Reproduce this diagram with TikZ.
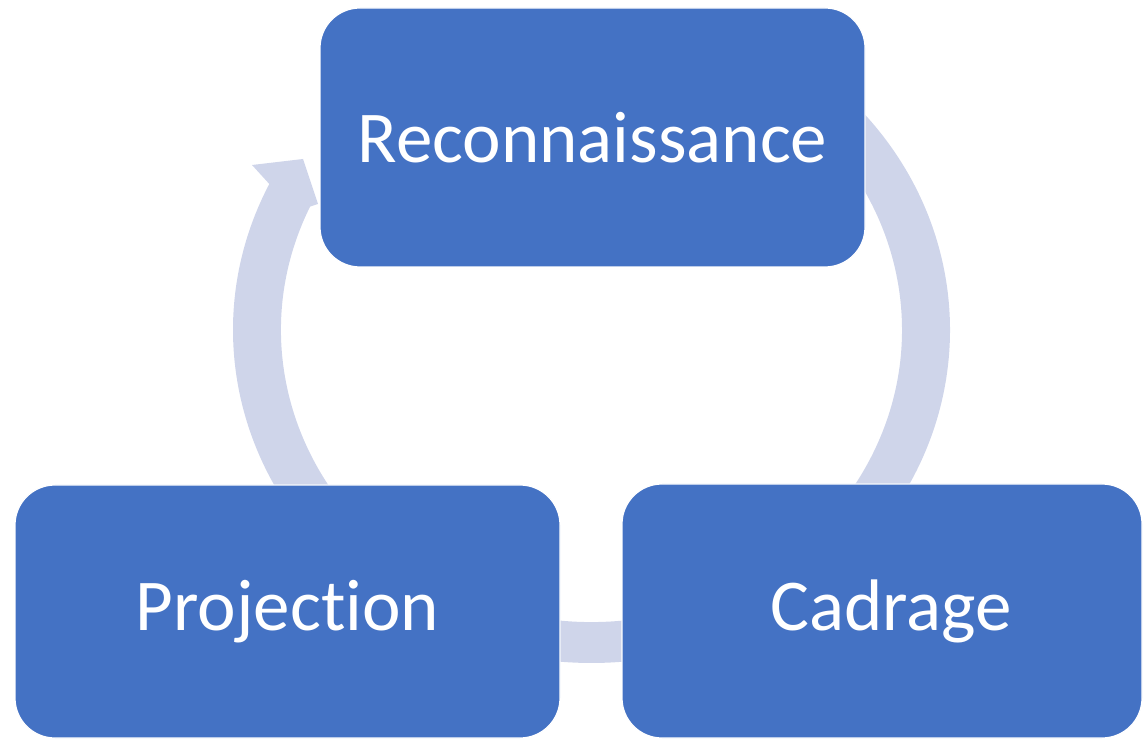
\documentclass[tikz,border=0pt]{standalone}
\usepackage{fontspec}
\setmainfont{Carlito}[Ligatures=NoCommon]
\usetikzlibrary{calc}
\definecolor{boxblue}{HTML}{4472C4}
\definecolor{ringblue}{HTML}{CFD5EA}
\tikzset{
  stagebox/.style={rectangle, rounded corners=40pt, fill=boxblue, draw=white, line width=1.2pt,
    inner sep=0pt, text=white, font=\fontsize{73}{87}\selectfont},
  ringfill/.style={fill=ringblue}
}
\begin{document}
\begin{tikzpicture}[x=1pt,y=1pt]
\useasboundingbox (0,0) rectangle (1147,739);
% ring centre and arrow head points
\coordinate (ctr) at (591.5,409);
\coordinate (tailO) at (845,644.5);
\coordinate (baseI) at (310.1,532.4);
\coordinate (barbO) at (252,574);
\coordinate (tip) at (303,580);
\coordinate (barbI) at (318,535);
% continuous circular arrow behind the boxes
\fill[ringfill] (tailO) arc[start angle=45, end angle=-206, x radius=358.5pt, y radius=333pt]
  -- (barbO) -- (tip) -- (barbI) -- (baseI)
  arc[start angle=-205, end angle=45, x radius=310.5pt, y radius=292pt] -- cycle;
% stages
\node[stagebox, minimum width=545pt, minimum height=259pt] (rec) at (592.5,601.5) {Reconnaissance};
\node[stagebox, minimum width=545pt, minimum height=253pt] (proj) at (287.5,127.5) {Projection};
\node[stagebox, minimum width=520pt, minimum height=254pt] (cad) at (882,128) {\kern18pt Cadrage};
\end{tikzpicture}
\end{document}
